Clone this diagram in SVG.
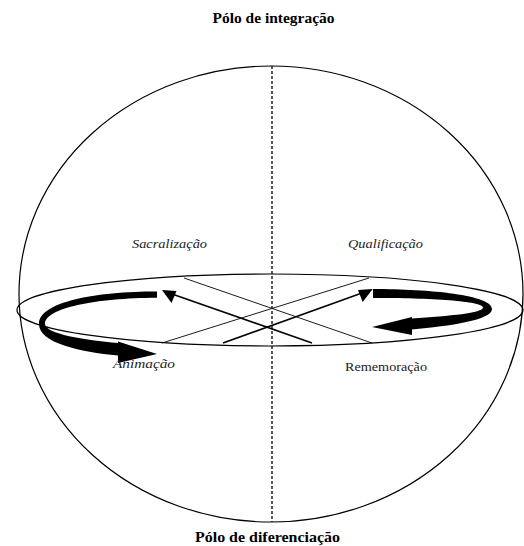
<svg xmlns="http://www.w3.org/2000/svg" width="524" height="546" viewBox="0 0 524 546">
<style>
.title{font-family:"Liberation Serif",serif;font-weight:bold;font-size:14px;fill:#000}
.lbl{font-family:"Liberation Serif",serif;font-style:italic;font-size:13.5px;fill:#222}
.lblr{font-family:"Liberation Serif",serif;font-size:13.5px;fill:#222}
.outline{fill:none;stroke:#000;stroke-width:1.2}
.thin{fill:none;stroke:#000;stroke-width:0.9}
.arr{fill:none;stroke:#000;stroke-width:1.6}
.head{fill:#000}
</style>
<rect width="524" height="546" fill="#fff"/>
<g id="sphere">
<ellipse class="outline" cx="271" cy="294" rx="252" ry="228"/>
</g>
<g id="equator">
<ellipse class="outline" cx="270" cy="310" rx="253" ry="36"/>
</g>
<g id="axis">
<line x1="272" y1="66" x2="272" y2="522" stroke="#000" stroke-width="1.3" stroke-dasharray="3 2"/>
</g>
<g id="connectors">
<line class="thin" x1="162" y1="343" x2="369" y2="278"/>
<line class="thin" x1="184" y1="278" x2="372" y2="343"/>
<line class="arr" x1="223" y1="343" x2="362" y2="293"/>
<polygon class="head" points="372.7,289 358,290 362.7,302"/>
<line class="arr" x1="312" y1="343" x2="172" y2="294"/>
<polygon class="head" points="162,290 176.5,291 171.5,303"/>
<path class="head" d="M157 291.5 C95 291.5 39 302 39 324 C39 343 80 352 118 355.5 L118 363 L157 354 L118 341.5 L118 343 C85 340 45 334 45 324 C45 308 95 298 157 297.7 Z"/>
<path class="head" d="M373 289 C430 289 492 295 492 309 C492 320 450 326 412 329.5 L412 335 L372 327 L412 317 L412 318.5 C450 316 483 313 483 307.5 C483 301 430 298 373 298 Z"/>
</g>
<g id="labels">
<text class="title" x="273.5" y="23" text-anchor="middle" textLength="122" lengthAdjust="spacingAndGlyphs">Pólo de integração</text>
<text class="title" x="267.5" y="542" text-anchor="middle" textLength="145" lengthAdjust="spacingAndGlyphs">Pólo de diferenciação</text>
<text class="lbl" x="132" y="248" textLength="75" lengthAdjust="spacingAndGlyphs">Sacralização</text>
<text class="lbl" x="348" y="248" textLength="75" lengthAdjust="spacingAndGlyphs">Qualificação</text>
<text class="lbl" x="113" y="368" textLength="62" lengthAdjust="spacingAndGlyphs">Animação</text>
<text class="lblr" x="345" y="370.5" textLength="82" lengthAdjust="spacingAndGlyphs">Rememoração</text>
</g>
</svg>
